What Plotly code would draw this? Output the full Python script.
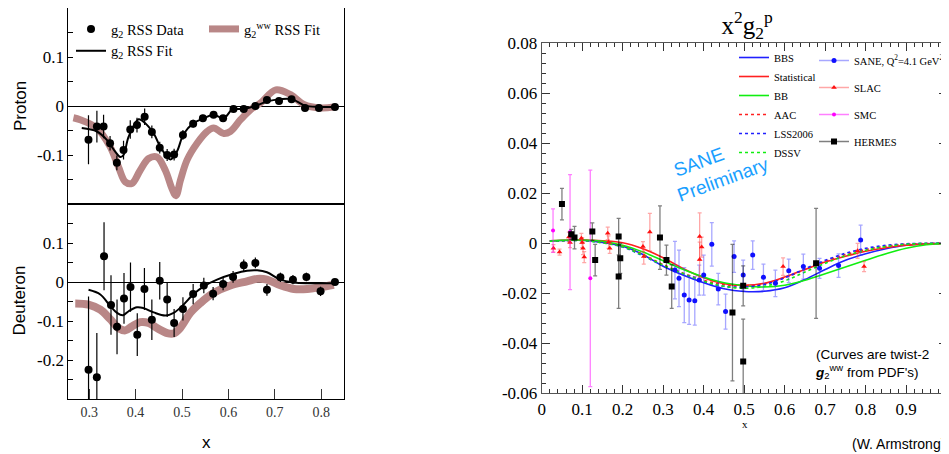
import plotly.graph_objects as go

W, H = 949, 454
OFF = 8  # the page body margin shifts the figure by 8 px; positions below are given in screen pixels
def px(x): return (x - OFF) / W
def py(y): return 1 - (y - OFF) / H

SERIF = '"Liberation Serif", "Times New Roman", serif'
SANS = '"Liberation Sans", Arial, sans-serif'

# ---------------- Left panel: Proton ----------------
p_x = [0.2985, 0.3166, 0.331, 0.345, 0.3596, 0.374, 0.3885, 0.403, 0.4195, 0.435, 0.452, 0.468, 0.483,
       0.502, 0.524, 0.545, 0.568, 0.5885, 0.611, 0.633, 0.658, 0.683, 0.709, 0.736, 0.765, 0.795, 0.8295]
p_y = [-0.069, -0.042, -0.042, -0.076, -0.116, -0.090, -0.048, -0.039, -0.022, -0.053, -0.085, -0.100, -0.099,
       -0.059, -0.036, -0.025, -0.018, -0.025, -0.006, -0.006, 0.0, 0.012, 0.010, 0.014, -0.004, -0.004, -0.002]
p_err = [0.050, 0.0325, 0.024, 0.015, 0.015, 0.019, 0.019, 0.015, 0.017, 0.013, 0.012, 0.012, 0.012,
         0.010, 0.008, 0.007, 0.006, 0.006, 0.005, 0.005, 0.005, 0.005, 0.005, 0.004, 0.004, 0.004, 0.003]

p_fit_x = [0.284, 0.3166, 0.338, 0.356, 0.367, 0.374, 0.385, 0.4065, 0.417, 0.439, 0.453, 0.475, 0.489,
           0.5035, 0.525, 0.547, 0.568, 0.59, 0.608, 0.633, 0.658, 0.6835, 0.712, 0.737, 0.765, 0.795, 0.8295]
p_fit_y = [-0.045, -0.052, -0.069, -0.093, -0.104, -0.100, -0.0625, -0.027, -0.032, -0.056, -0.083, -0.109, -0.093,
           -0.057, -0.035, -0.025, -0.018, -0.025, -0.0076, -0.006, 0.0, 0.0095, 0.014, 0.014, 0.0007, -0.002, -0.002]

p_ww_x = [0.266, 0.2806, 0.3166, 0.345, 0.363, 0.378, 0.392, 0.41, 0.428, 0.446, 0.464, 0.4785, 0.487,
          0.4964, 0.511, 0.5325, 0.554, 0.568, 0.59, 0.604, 0.626, 0.6475, 0.669, 0.702, 0.734, 0.7625, 0.7985, 0.827]
p_ww_y = [-0.024, -0.028, -0.045, -0.083, -0.124, -0.155, -0.158, -0.131, -0.107, -0.104, -0.131, -0.169, -0.183,
          -0.152, -0.110, -0.076, -0.052, -0.045, -0.056, -0.052, -0.028, -0.0076, 0.006, 0.033, 0.023, 0.003, -0.004, -0.002]

# ---------------- Left panel: Deuteron ----------------
d_x = [0.2986, 0.3165, 0.332, 0.347, 0.36, 0.375, 0.389, 0.4036, 0.419, 0.435, 0.452, 0.468, 0.483, 0.502,
       0.524, 0.547, 0.567, 0.5885, 0.61, 0.633, 0.658, 0.683, 0.712, 0.739, 0.768, 0.7985, 0.8295]
d_y = [-0.225, -0.244, 0.066, -0.059, -0.115, -0.042, -0.013, -0.135, -0.018, -0.097, 0.003, -0.045, -0.105, -0.069,
       -0.031, -0.009, -0.030, -0.005, 0.013, 0.043, 0.049, -0.020, 0.012, 0.006, 0.013, -0.024, 0.0]
d_err = [0.188, 0.113, 0.087, 0.076, 0.070, 0.065, 0.063, 0.055, 0.054, 0.052, 0.048, 0.045, 0.036, 0.030,
         0.026, 0.020, 0.017, 0.016, 0.015, 0.015, 0.014, 0.015, 0.012, 0.012, 0.011, 0.012, 0.005]

d_fit_x = [0.2986, 0.324, 0.345, 0.36, 0.373, 0.385, 0.403, 0.417, 0.439, 0.464, 0.482, 0.5, 0.525,
           0.547, 0.5755, 0.6115, 0.64, 0.662, 0.683, 0.712, 0.741, 0.77, 0.827]
d_fit_y = [-0.020, -0.032, -0.061, -0.079, -0.085, -0.075, -0.065, -0.067, -0.078, -0.086, -0.079, -0.062, -0.031,
           -0.011, 0.006, 0.021, 0.029, 0.030, 0.025, 0.006, -0.001, -0.003, -0.003]

d_ww_x = [0.27, 0.2986, 0.324, 0.345, 0.363, 0.378, 0.392, 0.41, 0.428, 0.446, 0.468, 0.482, 0.496,
          0.518, 0.5396, 0.568, 0.604, 0.64, 0.662, 0.683, 0.712, 0.741, 0.77, 0.7985, 0.827]
d_ww_y = [-0.055, -0.058, -0.071, -0.095, -0.118, -0.124, -0.114, -0.103, -0.105, -0.118, -0.131, -0.132, -0.118,
          -0.079, -0.054, -0.028, -0.009, 0.0017, 0.008, 0.006, -0.0085, -0.018, -0.018, -0.013, -0.007]

# ---------------- Right panel: x^2 g2^p ----------------
curve_x = [0.02, 0.05, 0.1, 0.15, 0.2, 0.25, 0.3, 0.35, 0.4, 0.45, 0.5, 0.55, 0.6, 0.65, 0.7,
           0.75, 0.8, 0.85, 0.9, 0.95, 1.0]
bbs_y = [0.0008, 0.0011, 0.0012, 0.0003, -0.0012, -0.0045, -0.0092, -0.0128, -0.0158, -0.0182, -0.0193,
         -0.0192, -0.0178, -0.0145, -0.0105, -0.0068, -0.0042, -0.0022, -0.0008, -0.0002, 0.0]
stat_y = [0.001, 0.0012, 0.0013, 0.001, 0.0002, -0.0022, -0.0058, -0.0102, -0.0138, -0.0162, -0.0168,
          -0.016, -0.0135, -0.0105, -0.0075, -0.0052, -0.0032, -0.0018, -0.0008, -0.0003, 0.0]
bb_y = [0.001, 0.0012, 0.0013, 0.0008, -0.0008, -0.0035, -0.007, -0.0105, -0.0135, -0.0158, -0.017,
        -0.0175, -0.0168, -0.0148, -0.0122, -0.0095, -0.0068, -0.0042, -0.002, -0.0006, 0.0]
aac_y = [0.0008, 0.001, 0.0012, 0.0004, -0.0012, -0.0045, -0.0085, -0.012, -0.0148, -0.0165, -0.017,
         -0.0162, -0.0138, -0.0105, -0.0072, -0.0045, -0.0025, -0.0012, -0.0004, -0.0001, 0.0]
lss_y = [0.0008, 0.001, 0.0011, 0.0002, -0.0015, -0.005, -0.009, -0.0125, -0.0155, -0.0172, -0.0175,
         -0.0165, -0.0138, -0.0102, -0.0068, -0.004, -0.002, -0.0008, -0.0002, 0.0, 0.0]
dssv_y = [0.0008, 0.001, 0.0011, 0.0002, -0.0014, -0.0048, -0.0088, -0.0122, -0.0152, -0.0172, -0.018,
          -0.0172, -0.015, -0.0115, -0.008, -0.005, -0.0028, -0.0013, -0.0004, -0.0001, 0.0]

sane_x = [0.329, 0.339, 0.352, 0.364, 0.378, 0.389, 0.40, 0.42, 0.436, 0.454, 0.475, 0.4975, 0.521,
          0.5475, 0.577, 0.61, 0.646, 0.686, 0.733, 0.7875]
sane_y = [-0.0107, -0.014, -0.0207, -0.0227, -0.023, -0.0147, -0.0127, -0.0004, -0.0183, -0.0273, -0.0053,
          -0.0127, -0.0047, -0.0136, -0.016, -0.011, -0.0093, -0.010, -0.0089, 0.0013]
sane_err = [0.0115, 0.0113, 0.011, 0.0097, 0.0097, 0.006, 0.008, 0.0087, 0.0063, 0.007, 0.0063,
            0.006, 0.0057, 0.0053, 0.0053, 0.0047, 0.005, 0.004, 0.0047, 0.006]

slac_x = [0.029, 0.044, 0.067, 0.07, 0.098, 0.1, 0.102, 0.105, 0.163, 0.165, 0.168, 0.25, 0.252, 0.267,
          0.39, 0.39, 0.395, 0.596, 0.78, 0.796]
slac_y = [-0.002, -0.0035, 0.0025, 0.0003, 0.002, 0.0003, -0.002, -0.0055, 0.004, 0.0005, -0.002, -0.0013,
          -0.0053, 0.0045, 0.0027, -0.0065, -0.0015, -0.0093, -0.003, -0.0093]
slac_err = [0.0015, 0.0012, 0.002, 0.002, 0.002, 0.002, 0.0025, 0.0022, 0.0025, 0.0025, 0.002, 0.002,
            0.003, 0.0075, 0.0095, 0.007, 0.004, 0.0035, 0.003, 0.002]

smc_x = [0.028, 0.07, 0.12]
smc_y = [0.0051, 0.0045, -0.014]
smc_err = [0.0087, 0.023, 0.0433]

hermes_x = [0.05, 0.073, 0.081, 0.125, 0.132, 0.19, 0.19, 0.194, 0.292, 0.308, 0.321, 0.471, 0.4975, 0.4975, 0.6775]
hermes_y = [0.0157, 0.0036, 0.0023, 0.0047, -0.0067, 0.0027, -0.0133, -0.006, 0.0023, -0.0067, -0.0173,
            -0.0277, -0.0473, -0.017, -0.008]
hermes_err = [0.0063, 0.002, 0.0045, 0.0035, 0.0063, 0.0073, 0.0127, 0.006, 0.0127, 0.006, 0.0087,
              0.0273, 0.017, 0.008, 0.022]

left_xticks = [0.3, 0.4, 0.5, 0.6, 0.7, 0.8]
proton_yticks = [-0.1, 0, 0.1]
proton_ylabels = ["-0.1", "0", "0.1"]
deut_yticks = [-0.2, -0.1, 0, 0.1]
deut_ylabels = ["-0.2", "-0.1", "0", "0.1"]
right_xticks = [0, 0.1, 0.2, 0.3, 0.4, 0.5, 0.6, 0.7, 0.8, 0.9, 1.0]
right_xlabels = ["0", "0.1", "0.2", "0.3", "0.4", "0.5", "0.6", "0.7", "0.8", "0.9", "1"]
right_yticks = [-0.06, -0.04, -0.02, 0, 0.02, 0.04, 0.06, 0.08]
right_ylabels = ["-0.06", "-0.04", "-0.02", "0", "0.02", "0.04", "0.06", "0.08"]

BAND = "#b98787"

fig = go.Figure()

# Proton
fig.add_trace(go.Scatter(x=p_ww_x, y=p_ww_y, mode="lines", line=dict(color=BAND, width=7, shape="spline"),
                         name="g<sub>2</sub><sup>ww</sup> RSS Fit", legend="legend4", xaxis="x", yaxis="y"))
fig.add_trace(go.Scatter(x=p_fit_x, y=p_fit_y, mode="lines", line=dict(color="black", width=2, shape="spline"),
                         name="g<sub>2</sub> RSS Fit", legend="legend", xaxis="x", yaxis="y"))
fig.add_trace(go.Scatter(x=p_x, y=p_y, mode="markers", marker=dict(color="black", size=8),
                         error_y=dict(type="data", array=p_err, color="black", thickness=1.2, width=0),
                         name="g<sub>2</sub> RSS Data", legend="legend", xaxis="x", yaxis="y"))
# Deuteron
fig.add_trace(go.Scatter(x=d_ww_x, y=d_ww_y, mode="lines", line=dict(color=BAND, width=8, shape="spline"),
                         showlegend=False, xaxis="x2", yaxis="y2"))
fig.add_trace(go.Scatter(x=d_fit_x, y=d_fit_y, mode="lines", line=dict(color="black", width=2, shape="spline"),
                         showlegend=False, xaxis="x2", yaxis="y2"))
fig.add_trace(go.Scatter(x=d_x, y=d_y, mode="markers", marker=dict(color="black", size=8),
                         error_y=dict(type="data", array=d_err, color="black", thickness=1.2, width=0),
                         showlegend=False, xaxis="x2", yaxis="y2"))

# Right panel curves
curves = [("BBS", bbs_y, "#2020ff", "solid"), ("Statistical", stat_y, "#ff2020", "solid"),
          ("BB", bb_y, "#10ee10", "solid"), ("AAC", aac_y, "#ff2020", "dot"),
          ("LSS2006", lss_y, "#2020ff", "dot"), ("DSSV", dssv_y, "#10ee10", "dot")]
for name, yy, col, dash in curves:
    fig.add_trace(go.Scatter(x=curve_x, y=yy, mode="lines", name=name,
                             line=dict(color=col, width=1.6, dash=dash, shape="spline"),
                             legend="legend2", xaxis="x3", yaxis="y3"))

datasets = [("SANE, Q<sup>2</sup>=4.1 GeV<sup>2</sup>", sane_x, sane_y, sane_err, "#1010ff",
             "rgba(60,60,255,0.45)", "circle", 5),
            ("SLAC", slac_x, slac_y, slac_err, "#ff1010", "rgba(255,60,60,0.45)", "triangle-up", 5),
            ("SMC", smc_x, smc_y, smc_err, "#ff00ff", "rgba(255,0,255,0.5)", "circle", 4),
            ("HERMES", hermes_x, hermes_y, hermes_err, "#000000", "rgba(0,0,0,0.5)", "square", 6)]
for name, xx, yy, ee, col, ecol, sym, sz in datasets:
    fig.add_trace(go.Scatter(x=xx, y=yy, mode="markers", marker=dict(color=col, symbol=sym, size=sz),
                             error_y=dict(type="data", array=ee, color=ecol, thickness=1.3, width=2),
                             showlegend=False, xaxis="x3", yaxis="y3"))
    # legend-only entry (line with marker, as in the original legend)
    fig.add_trace(go.Scatter(x=[None], y=[None], mode="lines+markers", name=name,
                             marker=dict(color=col, symbol=sym, size=sz),
                             line=dict(color=ecol, width=1.5), legend="legend3", legendgroup=name,
                             xaxis="x3", yaxis="y3"))

LX = [px(68.3), px(344)]
frame = dict(showline=True, linecolor="black", linewidth=1, mirror=True, showgrid=False, automargin=False)

fig.update_layout(
    width=W, height=H, margin=dict(l=0, r=0, t=0, b=0, autoexpand=False),
    paper_bgcolor="white", plot_bgcolor="white", showlegend=True,
    xaxis=dict(domain=LX, range=[0.255, 0.849], anchor="y", ticks="", showticklabels=False,
               zeroline=False, **frame),
    yaxis=dict(domain=[py(204), py(8)], range=[-0.2, 0.2], anchor="x", tickvals=proton_yticks,
               ticktext=proton_ylabels, ticks="inside", ticklen=5, tickcolor="black",
               minor=dict(dtick=0.05, ticks="inside", ticklen=5, tickcolor="black"),
               zeroline=True, zerolinecolor="black", zerolinewidth=1,
               tickfont=dict(family=SERIF, size=17, color="black"), **frame),
    xaxis2=dict(domain=LX, range=[0.255, 0.849], anchor="y2", tickvals=left_xticks,
                ticktext=[str(v) for v in left_xticks], ticks="inside", ticklen=10, tickcolor="#333",
                zeroline=False, tickfont=dict(family=SERIF, size=14, color="#333"), **frame),
    yaxis2=dict(domain=[py(399), py(204)], range=[-0.3, 0.2], anchor="x2", tickvals=deut_yticks,
                ticktext=deut_ylabels, ticks="inside", ticklen=5, tickcolor="black",
                minor=dict(dtick=0.05, ticks="inside", ticklen=5, tickcolor="black"),
                zeroline=True, zerolinecolor="black", zerolinewidth=1,
                tickfont=dict(family=SERIF, size=17, color="black"), **frame),
    xaxis3=dict(domain=[px(541.7), px(946.7)], range=[0, 1], anchor="y3", tickvals=right_xticks,
                ticktext=right_xlabels, ticks="inside", ticklen=8, tickcolor="#333",
                minor=dict(dtick=0.02, ticks="inside", ticklen=4, tickcolor="#333"),
                showline=True, linecolor="#555", linewidth=1, mirror="allticks", showgrid=False,
                zeroline=False, automargin=False, tickfont=dict(family=SERIF, size=17, color="black")),
    yaxis3=dict(domain=[py(393.3), py(43.3)], range=[-0.06, 0.08], anchor="x3", tickvals=right_yticks,
                ticktext=right_ylabels, ticks="inside", ticklen=8, tickcolor="#333",
                minor=dict(dtick=0.004, ticks="inside", ticklen=4, tickcolor="#333"),
                showline=True, linecolor="#555", linewidth=1, mirror="allticks", showgrid=False,
                zeroline=False, automargin=False, tickfont=dict(family=SERIF, size=17, color="black")),
    legend=dict(x=px(71), y=py(13), xanchor="left", yanchor="top", bgcolor="rgba(0,0,0,0)",
                font=dict(family=SERIF, size=14.5, color="black"), traceorder="reversed"),
    legend4=dict(x=px(204), y=py(13), xanchor="left", yanchor="top", bgcolor="rgba(0,0,0,0)",
                 font=dict(family=SERIF, size=14.5, color="black")),
    legend2=dict(x=px(734), y=py(43), xanchor="left", yanchor="top", bgcolor="rgba(0,0,0,0)",
                 font=dict(family=SERIF, size=10.5, color="black"), traceorder="normal"),
    legend3=dict(x=px(814), y=py(46), xanchor="left", yanchor="top", bgcolor="rgba(0,0,0,0)",
                 font=dict(family=SERIF, size=10.5, color="black"), tracegroupgap=8),
    title=dict(text="x<sup>2</sup>g<sub>2</sub><sup>p</sup>", x=px(747), y=py(25), xanchor="center",
               yanchor="middle", font=dict(family=SERIF, size=25, color="black")),
)

ann = [
    dict(text="Proton", x=px(20), y=py(106), textangle=-90, font=dict(family=SANS, size=17, color="black")),
    dict(text="Deuteron", x=px(18.5), y=py(301), textangle=-90, font=dict(family=SANS, size=17, color="black")),
    dict(text="x", x=px(206.5), y=py(442), font=dict(family=SANS, size=17, color="black")),
    dict(text="x", x=px(745), y=py(424), font=dict(family=SERIF, size=11, color="black")),
    dict(text="\u00a0SANE<br>Preliminary", x=px(719), y=py(168), textangle=-20, align="left",
         font=dict(family=SANS, size=19, color="#1a9fff")),
    dict(text="(Curves are twist-2<br><b><i>g</i></b><sub>2</sub><sup>ww</sup> from PDF's)",
         x=px(813), y=py(364), xanchor="left", align="left",
         font=dict(family=SANS, size=13.5, color="black")),
    dict(text="(W. Armstrong)", x=px(947), y=py(444), xanchor="right",
         font=dict(family=SANS, size=14, color="black")),
]
for a in ann:
    a.setdefault("xanchor", "center")
    a.update(xref="paper", yref="paper", yanchor="middle", showarrow=False)
fig.update_layout(annotations=ann)

fig.write_html("out.html")
